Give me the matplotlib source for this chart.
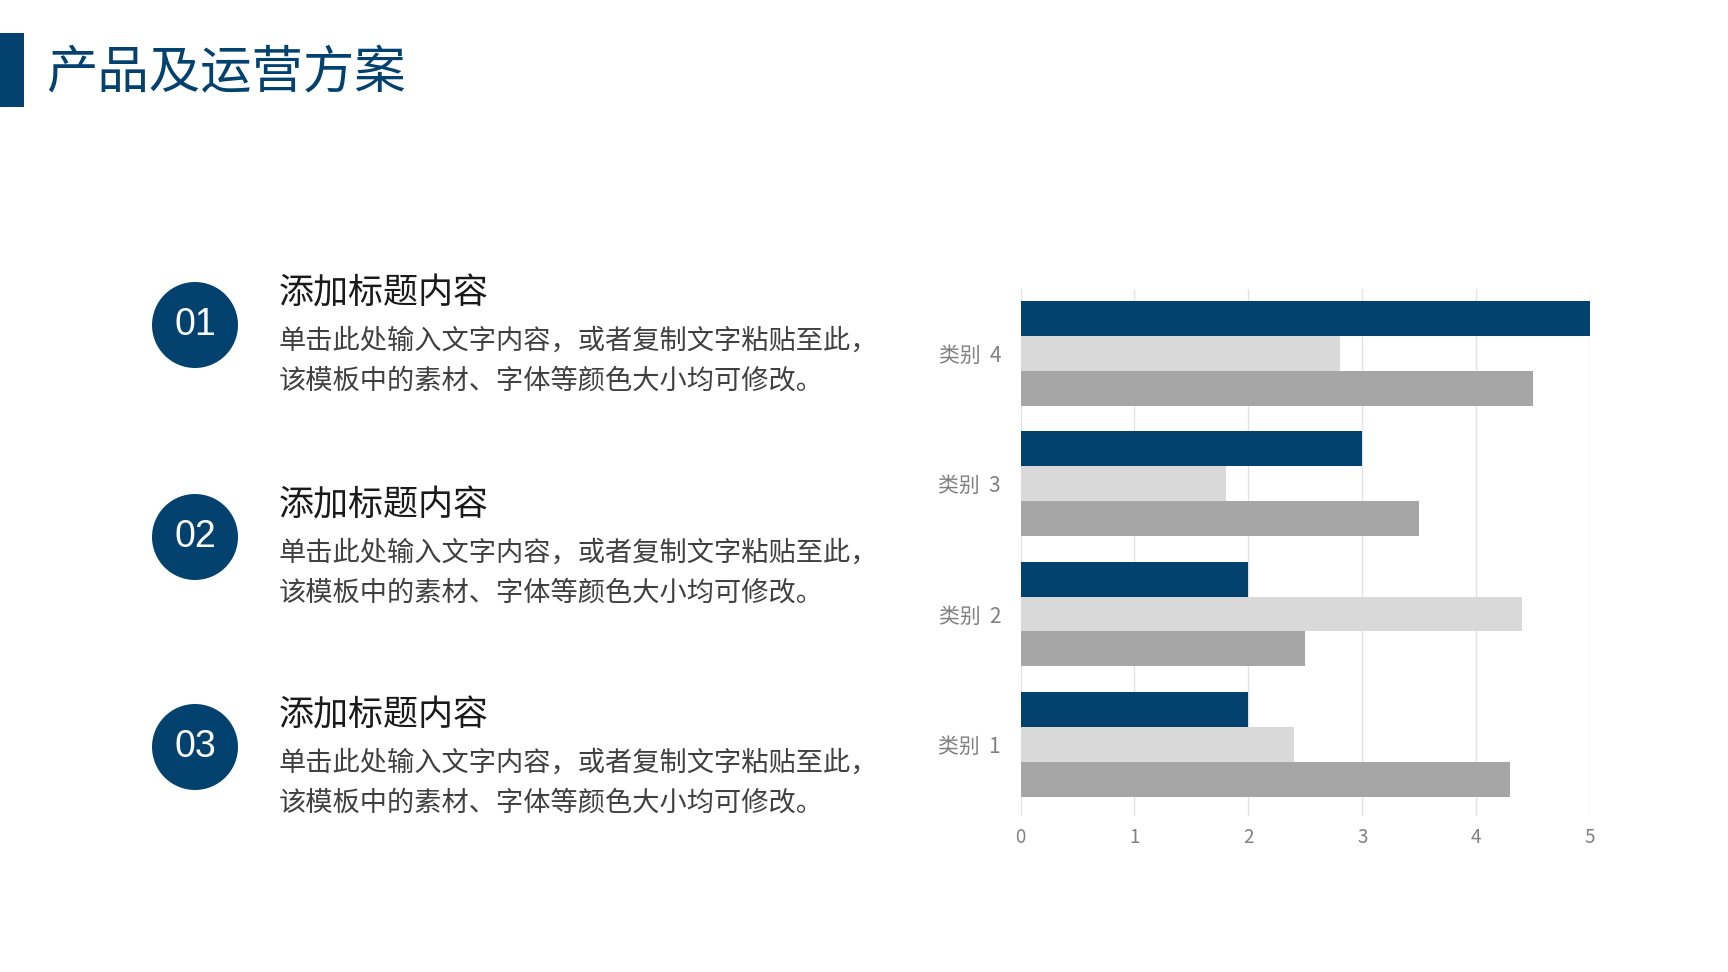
import matplotlib.pyplot as plt
from matplotlib.patches import Ellipse, Rectangle
import numpy as np

plt.rcParams['font.family'] = ['Noto Sans CJK SC', 'DejaVu Sans']

# chart data
categories = ["类别  1", "类别  2", "类别  3", "类别  4"]
series_blue = [2.0, 2.0, 3.0, 5.0]
series_light = [2.4, 4.4, 1.8, 2.8]
series_gray = [4.3, 2.5, 3.5, 4.5]
x_ticks = [0, 1, 2, 3, 4, 5]

# left side text
title = "产品及运营方案"
numbers = ["01", "02", "03"]
headings = ["添加标题内容", "添加标题内容", "添加标题内容"]
body_line1 = "单击此处输入文字内容，或者复制文字粘贴至此，"
body_line2 = "该模板中的素材、字体等颜色大小均可修改。"

BLUE = "#03426F"
LIGHT = "#D9D9D9"
GRAY = "#A6A6A6"

W, H = 1728, 972
fig = plt.figure(figsize=(W / 100, H / 100), dpi=100)


def fx(px):
    return px / W


def fy(py):
    return 1 - py / H


# title bar and title
fig.add_artist(Rectangle((0, fy(107)), fx(24), 74 / H, transform=fig.transFigure,
                         color=BLUE, lw=0))
fig.text(fx(46), fy(73), title, fontsize=37, color=BLUE, ha="left", va="center",
         fontweight="light")

# three numbered items
circle_y = [325, 537, 747]
for i, cy in enumerate(circle_y):
    fig.add_artist(Ellipse((fx(195), fy(cy)), 86 / W, 86 / H, transform=fig.transFigure,
                           color=BLUE, lw=0))
    fig.text(fx(195), fy(cy), numbers[i], fontsize=27, color="white", ha="center",
             va="center", family="Liberation Sans")
    fig.text(fx(279), fy(cy - 32), headings[i], fontsize=25.2, color="#1a1a1a",
             ha="left", va="center")
    fig.text(fx(279), fy(cy + 16), body_line1, fontsize=19.6, color="#404040",
             ha="left", va="center")
    fig.text(fx(279), fy(cy + 56), body_line2, fontsize=19.6, color="#404040",
             ha="left", va="center")

# bar chart
ax = fig.add_axes([0.5906, 0.161, 0.3296, 0.542])
y = np.arange(len(categories))
h = 0.268
ax.barh(y + h, series_blue, height=h, color=BLUE, zorder=3)
ax.barh(y, series_light, height=h, color=LIGHT, zorder=3)
ax.barh(y - h, series_gray, height=h, color=GRAY, zorder=3)

ax.set_xlim(0, 5)
ax.set_ylim(-0.545, 3.494)
ax.set_xticks(x_ticks)
ax.set_xticklabels([str(t) for t in x_ticks])
ax.set_yticks(y)
ax.set_yticklabels(categories)
ax.tick_params(axis="both", length=0, colors="#808080")
ax.tick_params(axis="x", pad=8, labelsize=13.5)
ax.tick_params(axis="y", pad=14, labelsize=15)
ax.grid(axis="x", color="#E3E3E3", lw=1, zorder=0)
for s in ax.spines.values():
    s.set_visible(False)

fig.savefig("out.png", dpi=100, facecolor="white")
